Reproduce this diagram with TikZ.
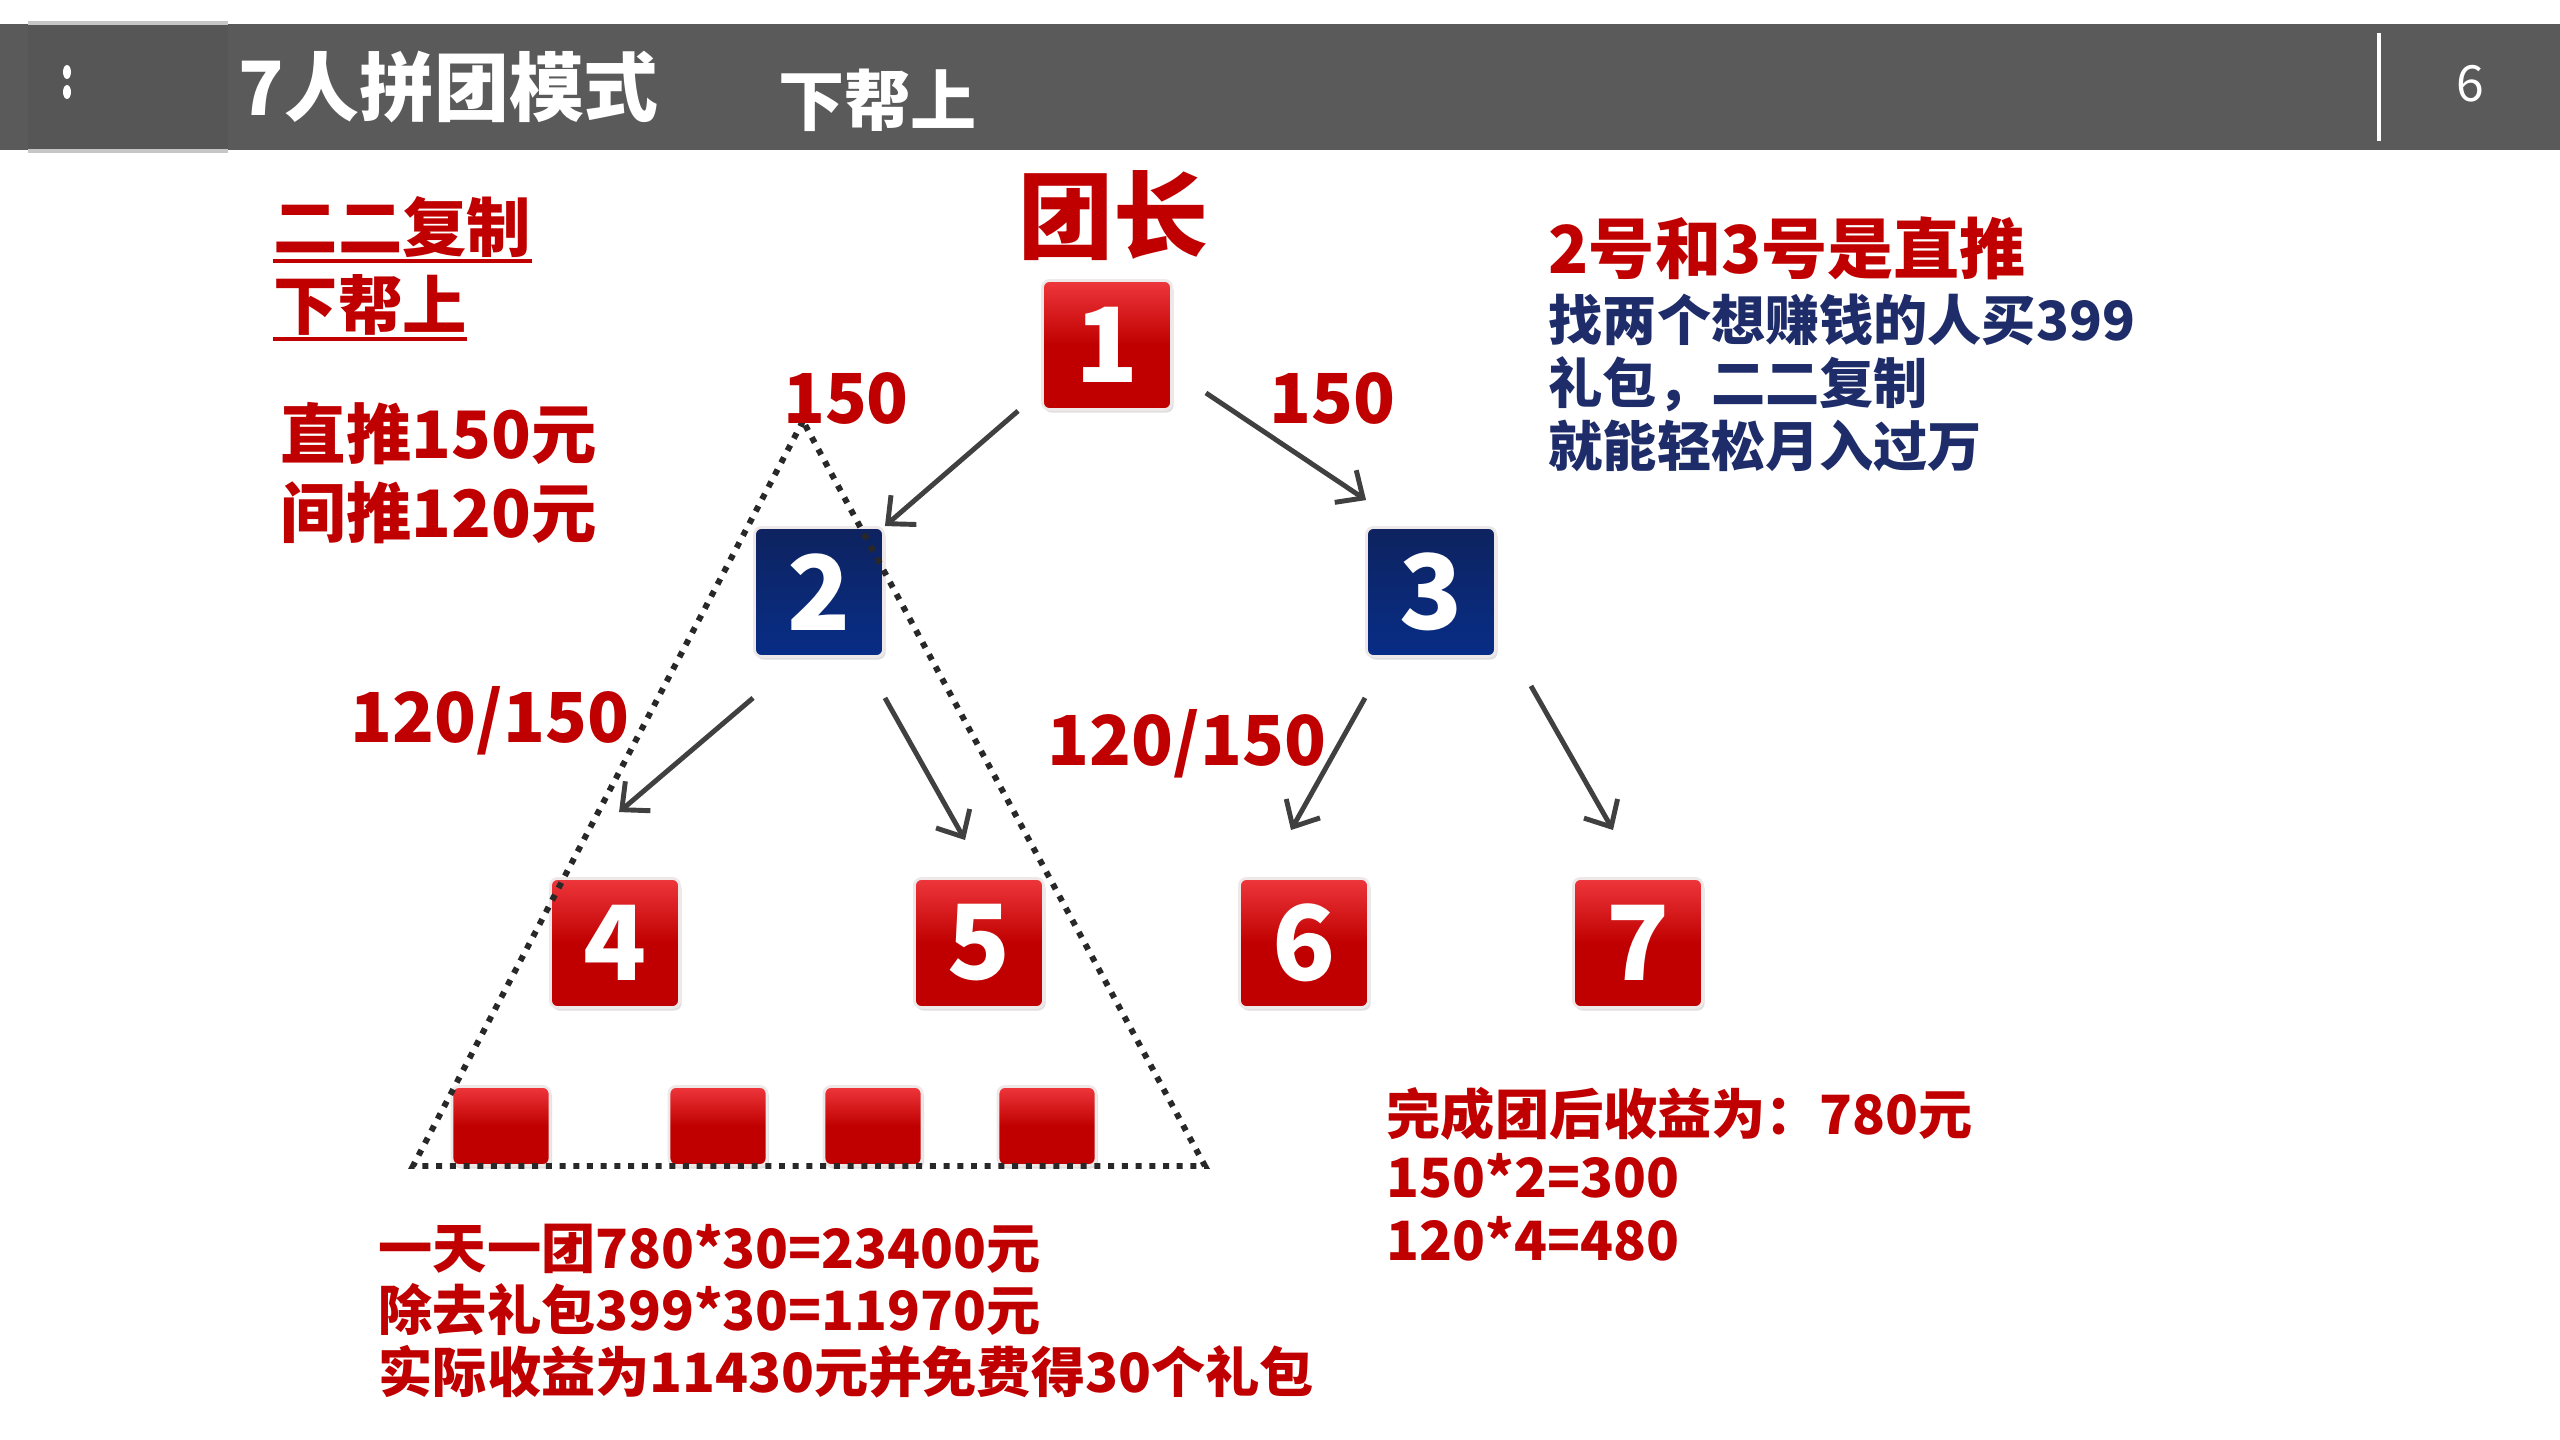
\documentclass[tikz,border=0pt]{standalone}
\usepackage{fontspec}
\setmainfont{Noto Sans CJK SC}
\newfontfamily\cjk{Noto Sans CJK SC}
\usetikzlibrary{arrows.meta,calc,shadows}
\newcommand\fsz[1]{\fontsize{#1}{#1}\selectfont}
\definecolor{hdr}{RGB}{90,90,90}
\definecolor{hdrblock}{RGB}{86,86,86}
\definecolor{txtred}{RGB}{192,0,0}
\definecolor{txtblue}{RGB}{30,45,105}
\definecolor{boxtop}{RGB}{238,55,60}
\definecolor{boxbot}{RGB}{192,0,0}
\definecolor{navytop}{RGB}{14,35,95}
\definecolor{navybot}{RGB}{8,45,135}
\definecolor{arrowc}{RGB}{64,64,64}
\definecolor{dotc}{RGB}{40,40,40}
\definecolor{boxedge}{RGB}{238,232,232}
\begin{document}
\begin{tikzpicture}[x=0.01cm,y=-0.01cm,
  boxbase/.style={rectangle, rounded corners=0.07cm, draw=boxedge, line width=0.8pt,
    drop shadow={shadow xshift=0.02cm, shadow yshift=-0.03cm, opacity=0.25},
    text=white, font=\cjk\bfseries\fsz{29.5pt}, inner sep=0pt},
  redbox/.style={boxbase, top color=boxtop, bottom color=boxbot, middle color=boxbot,
    minimum width=1.29cm, minimum height=1.29cm},
  bluebox/.style={boxbase, top color=navytop, bottom color=navybot,
    minimum width=1.29cm, minimum height=1.29cm},
  smallbox/.style={boxbase, top color=boxtop, bottom color=boxbot, middle color=boxbot,
    minimum width=0.98cm, minimum height=0.79cm},
  arr/.style={draw=arrowc, line width=1.4pt, -{Straight Barb[length=6pt,width=11pt]}},
  tri/.style={draw=dotc, line width=1.7pt, dash pattern=on 1.7pt off 2.2pt},
  lbl/.style={anchor=base, inner sep=0pt, text=txtred, font=\cjk\bfseries\fsz{19.6pt}},
  redtxt/.style={anchor=base west, inner sep=0pt, text=txtred, font=\cjk\bfseries\fsz{15.4pt}},
  bluetxt/.style={anchor=base west, inner sep=0pt, text=txtblue, font=\cjk\bfseries\fsz{15.4pt}},
  uline/.style={draw=txtred, line width=1.1pt}
]
\useasboundingbox (0,0) rectangle (2560,1440);
\fill[white] (0,0) rectangle (2560,1440);

% header
\fill[hdr] (0,24) rectangle (2560,150);
\fill[hdrblock] (28,24) rectangle (228,150);
\draw[gray!45, line width=1pt] (28,23) -- (228,23);
\draw[gray!45, line width=1pt] (28,151) -- (228,151);
\fill[white] (67,72) ellipse (0.04cm and 0.07cm);
\fill[white] (67,92) ellipse (0.04cm and 0.07cm);
\node[anchor=base west, inner sep=0pt, text=white, font=\cjk\bfseries\fsz{21.3pt}] (title) at (238,116) {7人拼团模式};
\node[anchor=base west, inner sep=0pt, text=white, font=\cjk\bfseries\fsz{18.8pt}] (sub) at (778,126) {下帮上};
\draw[white, line width=0.9pt] (2379,33) -- (2379,141);
\node[anchor=base, inner sep=0pt, text=white, font=\cjk\fsz{14.2pt}] (page) at (2470,102) {6};

% leader label
\node[anchor=base, inner sep=0pt, text=txtred, font=\cjk\bfseries\fsz{27pt}] (leader) at (1113,252) {团长};

% boxes
\node[redbox] (n1) at (1107,345) {1};
\node[bluebox] (n2) at (819,592) {2};
\node[bluebox] (n3) at (1431,592) {3};
\node[redbox] (n4) at (615,943) {4};
\node[redbox] (n5) at (979,943) {5};
\node[redbox] (n6) at (1304,943) {6};
\node[redbox] (n7) at (1638,943) {7};
\node[smallbox] (s1) at (501,1126) {};
\node[smallbox] (s2) at (718,1126) {};
\node[smallbox] (s3) at (873,1126) {};
\node[smallbox] (s4) at (1047,1126) {};

% dotted triangle
\coordinate (apex) at (803,421);
\coordinate (bl) at (413,1166);
\coordinate (br) at (1205,1166);
\draw[tri] (apex) -- (bl) -- (br) -- cycle;

% arrows
\draw[arr] ($(n1.south west)+(-23,0)$) -- (n2.north east);
\draw[arr] ($(n1.south east)+(33,-18)$) -- ($(n3.north west)+(1,-26)$);
\draw[arr] ($(n2.south west)+(0,40)$) -- ($(n4.north west)+(70,-65)$);
\draw[arr] ($(n2.south east)+(0,40)$) -- ($(n5.north)+(-14,-37)$);
\draw[arr] ($(n3.south west)+(0,40)$) -- ($(n6.north)+(-13,-47)$);
\draw[arr] ($(n3.south east)+(34,28)$) -- ($(n7.north)+(-25,-47)$);

% edge labels
\node[lbl] (l12) at (846,424) {150};
\node[lbl] (l13) at (1332,424) {150};
\node[lbl] (l2) at (490,743) {120/150};
\node[lbl] (l3) at (1187,766) {120/150};

% left text
\node[anchor=base west, inner sep=0pt, text=txtred, font=\cjk\bfseries\fsz{18.3pt}] (r1) at (273,252) {二二复制};
\node[anchor=base west, inner sep=0pt, text=txtred, font=\cjk\bfseries\fsz{18.3pt}] (r2) at (273,330) {下帮上};
\draw[uline] ($(r1.base west)+(0,9)$) -- ($(r1.base east)+(0,9)$);
\draw[uline] ($(r2.base west)+(0,9)$) -- ($(r2.base east)+(0,9)$);
\node[anchor=base west, inner sep=0pt, text=txtred, font=\cjk\bfseries\fsz{18.6pt}] (p1) at (280,459) {直推150元};
\node[anchor=base west, inner sep=0pt, text=txtred, font=\cjk\bfseries\fsz{18.6pt}] (p2) at (280,538) {间推120元};

% right top text
\node[anchor=base west, inner sep=0pt, text=txtred, font=\cjk\bfseries\fsz{18.8pt}] (d0) at (1548,274) {2号和3号是直推};
\node[bluetxt] (d1) at (1548,341) {找两个想赚钱的人买399};
\node[bluetxt] (d2) at (1548,404) {礼包，二二复制};
\node[bluetxt] (d3) at (1548,467) {就能轻松月入过万};

% bottom right text
\node[redtxt] (e1) at (1386,1134) {完成团后收益为：780元};
\node[redtxt] (e2) at (1386,1197) {150*2=300};
\node[redtxt] (e3) at (1386,1260) {120*4=480};

% bottom left text
\node[redtxt] (f1) at (378,1268) {一天一团780*30=23400元};
\node[redtxt] (f2) at (378,1330) {除去礼包399*30=11970元};
\node[redtxt] (f3) at (378,1392) {实际收益为11430元并免费得30个礼包};
\end{tikzpicture}
\end{document}
